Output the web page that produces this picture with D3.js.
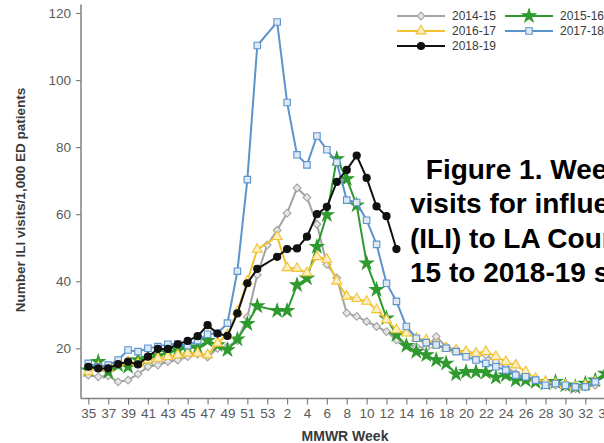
<!DOCTYPE html>
<html><head><meta charset="utf-8">
<script src="https://cdn.jsdelivr.net/npm/d3@7"></script>
<style>html,body{margin:0;padding:0;background:#fff;overflow:hidden}svg{display:block;font-family:"Liberation Sans",Arial,sans-serif}</style>
</head><body><svg id="c" width="604" height="443"></svg>
<script>
// MMWR weeks on the x axis (week 53 only exists in 2014-15)
const weeks = [35,36,37,38,39,40,41,42,43,44,45,46,47,48,49,50,51,52,53,
  1,2,3,4,5,6,7,8,9,10,11,12,13,14,15,16,17,18,19,20,21,22,23,24,25,26,27,28,29,30,31,32,33,34];
const tickWeeks = [35,37,39,41,43,45,47,49,51,53,2,4,6,8,10,12,14,16,18,20,22,24,26,28,30,32,34];
const yTicks = [20,40,60,80,100,120];
const seasons = ["2014-15","2015-16","2016-17","2017-18","2018-19"];

const s1415 = [12.0,11.5,11.8,10.0,10.5,12.3,14.5,15.0,16.0,16.5,
  17.5,18.3,17.4,20.0,20.5,22.3,29.3,41.9,50.8,55.2,
  60.3,67.8,65.0,57.0,45.0,41.0,30.5,29.5,28.0,26.5,
  25.0,22.5,21.0,20.5,20.0,23.5,20.5,19.5,19.0,18.5,
  18.0,16.0,14.5,12.5,11.5,10.5,9.5,9.0,8.5,8.0,
  8.5,9.0,null];
const s1516 = [13.5,16.0,13.0,15.0,14.5,16.5,17.0,17.7,18.7,19.5,
  20.0,20.3,22.3,21.0,19.5,22.7,27.3,32.6,null,31.2,
  31.2,38.9,40.9,50.3,59.8,76.5,70.5,62.7,45.4,37.5,
  29.0,24.0,20.8,19.0,18.0,16.5,15.5,12.3,13.0,13.0,
  12.8,11.3,12.0,10.5,10.5,10.0,9.5,10.0,9.0,8.5,
  9.5,10.5,12.5];
const s1617 = [13.0,14.5,14.0,15.5,16.0,15.5,16.5,17.0,17.5,18.0,
  18.5,18.5,18.0,21.5,24.0,31.0,40.0,49.5,null,53.3,
  44.0,43.8,42.5,47.3,46.5,40.0,35.5,34.8,34.0,31.5,
  28.5,25.5,24.5,23.0,22.5,21.0,20.0,19.5,19.0,18.5,
  19.0,17.5,16.0,15.0,13.0,11.0,10.0,9.5,9.0,8.5,
  9.0,10.0,null];
const s1718 = [15.5,14.5,15.0,16.5,19.5,19.0,20.0,20.5,21.2,21.3,
  20.8,22.3,24.2,24.5,27.5,43.0,70.3,110.3,null,117.3,
  93.3,77.7,74.7,83.3,79.2,75.5,64.2,63.5,58.2,51.0,
  39.4,34.0,26.5,23.0,21.7,21.0,20.0,19.0,17.5,16.5,
  15.5,14.5,13.5,12.0,11.5,10.5,9.0,9.5,9.0,8.5,
  8.5,10.0,null];
const s1819 = [14.5,14.0,14.0,15.3,16.0,15.2,17.5,19.8,19.8,21.2,
  22.2,23.6,26.9,24.4,23.7,30.4,39.4,43.7,null,47.3,
  49.6,49.8,53.3,60.0,62.2,69.6,73.2,77.5,70.8,62.3,
  59.4,49.6];

const titleLines = [" Figure 1. Weekly ED", "visits for influenza-like", "(ILI) to LA County EDs, 2014-", "15 to 2018-19 seasons"];

const styles = [
  {name:seasons[0], data:s1415, color:"#a3a3a3", sym:"diamond", fill:"#e6e6e6"},
  {name:seasons[1], data:s1516, color:"#2f9a2f", sym:"star", fill:"#2f9a2f"},
  {name:seasons[2], data:s1617, color:"#f1c232", sym:"triangle", fill:"#fbeec0"},
  {name:seasons[3], data:s1718, color:"#5b93cc", sym:"square", fill:"#dde9f5"},
  {name:seasons[4], data:s1819, color:"#111111", sym:"circle", fill:"#111111"}
];

const svg = d3.select("#c");
const x = d3.scalePoint().domain(weeks).range([88.3, 88.3 + 9.94*(weeks.length-1)]);
const y = d3.scaleLinear().domain([5, 122.5]).range([398.6, 4.6]);

const symMap = {diamond:d3.symbolSquare, star:d3.symbolStar, triangle:d3.symbolTriangle, square:d3.symbolSquare, circle:d3.symbolCircle};
const symSize = {diamond:30, star:55, triangle:42, square:42, circle:40};
function symPath(s){ return d3.symbol().type(symMap[s]).size(symSize[s])(); }

// axes
const axG = svg.append("g").attr("fill","none");
const yAxis = d3.axisLeft(y).tickValues(yTicks).tickSize(5).tickPadding(5);
const gy = svg.append("g").attr("transform","translate(81,0)").call(yAxis);
gy.select(".domain").remove();
gy.selectAll("line").attr("stroke","#808080").attr("stroke-width",1.2);
gy.selectAll("text").attr("fill","#5a5a5a").style("font-size","13.5px").style("font-family","Liberation Sans, Arial, sans-serif");

const xAxis = d3.axisBottom(x).tickValues(tickWeeks).tickSize(6).tickPadding(4);
const gx = svg.append("g").attr("transform","translate(0,398.6)").call(xAxis);
gx.select(".domain").remove();
gx.selectAll("line").attr("stroke","#808080").attr("stroke-width",1.2);
gx.selectAll("text").attr("fill","#5a5a5a").style("font-size","13.5px").style("font-family","Liberation Sans, Arial, sans-serif");

svg.append("line").attr("x1",81).attr("x2",81).attr("y1",y.range()[1]).attr("y2",398.6).attr("stroke","#808080").attr("stroke-width",1.5);
svg.append("line").attr("x1",81).attr("x2",620).attr("y1",398.6).attr("y2",398.6).attr("stroke","#808080").attr("stroke-width",1.5);

svg.append("text").attr("transform","translate(25,200) rotate(-90)").attr("text-anchor","middle")
  .style("font-size","13.5px").style("font-weight","bold").attr("fill","#3a3a3a")
  .text("Number ILI visits/1,000 ED patients");
svg.append("text").attr("x",345).attr("y",441).attr("text-anchor","middle")
  .style("font-size","14px").style("font-weight","bold").attr("fill","#3a3a3a")
  .text("MMWR Week");

// series
const line = d3.line().x(d=>x(d.w)).y(d=>y(d.v));
styles.forEach(s=>{
  const pts = weeks.map((w,i)=>({w, v:s.data[i]})).filter(d=>d.v!=null && d.v!==undefined);
  const g = svg.append("g");
  g.append("path").datum(pts).attr("d",line).attr("fill","none").attr("stroke",s.color).attr("stroke-width",2);
  g.selectAll("path.m").data(pts).enter().append("path").attr("class","m")
    .attr("d",symPath(s.sym))
    .attr("transform",d=>`translate(${x(d.w)},${y(d.v)})`+(s.sym==="diamond"?" rotate(45)":""))
    .attr("fill",s.fill).attr("stroke",s.color).attr("stroke-width",1.1);
});

// legend
const legPos = [[397,16],[505,16],[397,31],[505,31],[397,46]];
styles.forEach((s,i)=>{
  const [lx,ly] = legPos[i];
  const g = svg.append("g");
  g.append("line").attr("x1",lx).attr("x2",lx+48).attr("y1",ly).attr("y2",ly).attr("stroke",s.color).attr("stroke-width",2);
  g.append("path").attr("d",symPath(s.sym)).attr("transform",`translate(${lx+24},${ly})`+(s.sym==="diamond"?" rotate(45)":""))
    .attr("fill",s.fill).attr("stroke",s.color).attr("stroke-width",1.1);
  g.append("text").attr("x",lx+55).attr("y",ly+4.3).style("font-size","12px").attr("fill","#3a3a3a").text(s.name);
});

// overlaid figure caption (cropped by the frame)
const tb = [178.5, 213, 247.5, 282];
const tx = [418, 410, 410, 410];
titleLines.forEach((t,i)=>{
  svg.append("text").attr("x",tx[i]).attr("y",tb[i]).attr("xml:space","preserve").style("white-space","pre")
    .style("font-size","28px").style("font-weight","bold").attr("fill","#000").text(t);
});
</script></body></html>
